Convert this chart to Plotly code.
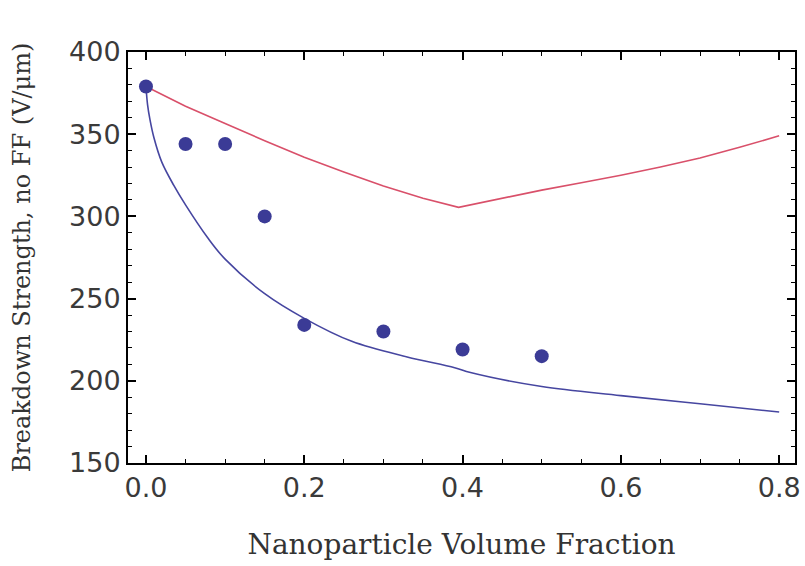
import plotly.graph_objects as go

# measured data points
data_x = [0.0, 0.05, 0.1, 0.15, 0.2, 0.3, 0.4, 0.5]
data_y = [379, 344, 344, 300, 234, 230, 219, 215]

# upper (red) model curve
red_x = [0.0, 0.05, 0.1, 0.15, 0.2, 0.25, 0.3, 0.35, 0.395, 0.45, 0.5, 0.55, 0.6, 0.65, 0.7, 0.75, 0.8]
red_y = [379, 367, 356.5, 346, 336, 327, 318.5, 311, 305.5, 311, 316, 320.5, 325, 330, 335.5, 342, 349]

# lower (blue) model curve
blue_x = [0.0, 0.002, 0.005, 0.01, 0.02, 0.035, 0.05, 0.078, 0.1, 0.15, 0.2, 0.26, 0.33, 0.39, 0.41, 0.5, 0.6, 0.7, 0.8]
blue_y = [379, 368, 359, 348, 333, 319, 307, 287, 274, 253, 238, 224, 214.5, 208, 205, 196.5, 191, 186, 181]

x_ticks = [0.0, 0.2, 0.4, 0.6, 0.8]
x_labels = ["0.0", "0.2", "0.4", "0.6", "0.8"]
y_ticks = [150, 200, 250, 300, 350, 400]

X_RANGE = [-0.0227, 0.820]
Y_RANGE = [150, 400]

fig = go.Figure()
fig.add_trace(go.Scatter(x=red_x, y=red_y, mode="lines",
                         line=dict(color="#d9506a", width=1.6), showlegend=False))
fig.add_trace(go.Scatter(x=blue_x, y=blue_y, mode="lines", line_shape="spline",
                         line=dict(color="#4646a0", width=1.6), showlegend=False))
fig.add_trace(go.Scatter(x=data_x, y=data_y, mode="markers",
                         marker=dict(color="#3b3b96", size=14), showlegend=False))
# invisible trace to activate the mirrored (top/right) axes
fig.add_trace(go.Scatter(x=[data_x[0]], y=[data_y[0]], xaxis="x2", yaxis="y2", mode="markers",
                         marker=dict(opacity=0), showlegend=False, hoverinfo="skip"))

serif = "DejaVu Serif, serif"
tickfont = dict(family="DejaVu Sans, sans-serif", size=27, color="#3a3a3a")
common = dict(showgrid=False, zeroline=False, showline=True, linecolor="black", automargin=False,
              linewidth=2, ticks="inside", ticklen=8, tickwidth=1.5, tickcolor="black")
xminor = dict(ticks="inside", dtick=0.05, tick0=0, ticklen=4, tickwidth=1.2, tickcolor="black")
yminor = dict(ticks="inside", dtick=10, tick0=150, ticklen=4, tickwidth=1.2, tickcolor="black")

fig.update_layout(
    xaxis=dict(range=X_RANGE, tickvals=x_ticks, ticktext=x_labels, tickfont=tickfont,
               ticklabeloverflow="allow",
               title=dict(text="Nanoparticle Volume Fraction",
                          font=dict(family=serif, size=28, color="#333333"), standoff=32),
               minor=xminor, **common),
    yaxis=dict(range=Y_RANGE, tickvals=y_ticks, tickfont=tickfont,
               title=dict(text="Breakdown Strength, no FF (V/\u03bcm)",
                          font=dict(family=serif, size=24, color="#333333"), standoff=32),
               minor=yminor, **common),
    xaxis2=dict(range=X_RANGE, overlaying="x", side="top", tickvals=x_ticks,
                showticklabels=False, minor=xminor, **common),
    yaxis2=dict(range=Y_RANGE, overlaying="y", side="right", tickvals=y_ticks,
                showticklabels=False, minor=yminor, **common),
    width=805, height=566, plot_bgcolor="white", paper_bgcolor="white",
    margin=dict(l=128, r=10, t=52, b=103, autoexpand=False),
)
fig.write_html("out.html", config={"displayModeBar": False},
               post_script="document.body.style.margin='0';document.body.style.overflow='hidden';")
